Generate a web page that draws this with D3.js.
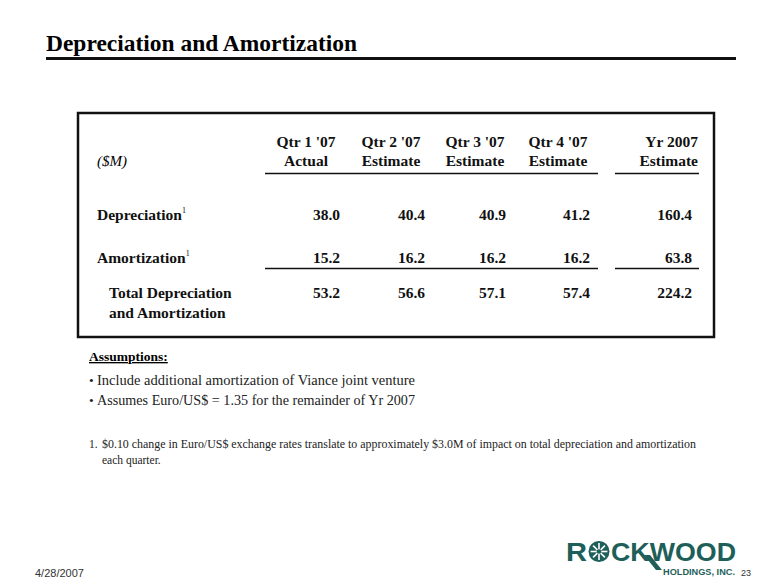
<!DOCTYPE html>
<html><head><meta charset="utf-8">
<script src="https://cdn.jsdelivr.net/npm/d3@7"></script>
<style>html,body{margin:0;padding:0;background:#fff;}svg{display:block;}</style>
</head><body>
<svg id="chart" width="780" height="587"></svg>
<script>
// ---- data ----
const title = "Depreciation and Amortization";
const columns = ["Qtr 1 '07", "Qtr 2 '07", "Qtr 3 '07", "Qtr 4 '07", "Yr 2007"];
const columnSub = ["Actual", "Estimate", "Estimate", "Estimate", "Estimate"];
const unitLabel = "($M)";
const rowLabels = ["Depreciation", "Amortization"];
const depreciation = [38.0, 40.4, 40.9, 41.2, 160.4];
const amortization = [15.2, 16.2, 16.2, 16.2, 63.8];
const totalLabel = ["Total Depreciation", "and Amortization"];
const total = [53.2, 56.6, 57.1, 57.4, 224.2];
const assumptionsTitle = "Assumptions:";
const assumptions = ["Include additional amortization of Viance joint venture",
                     "Assumes Euro/US$ = 1.35 for the remainder of Yr 2007"];
const footnote = ["$0.10 change in Euro/US$ exchange rates translate to approximately $3.0M of impact on total depreciation and amortization",
                  "each quarter."];
const dateText = "4/28/2007";
const pageNum = "23";

// ---- drawing ----
const svg = d3.select("#chart");
const serif = "'Liberation Serif', 'Times New Roman', serif";
const sans = "'Liberation Sans', Arial, sans-serif";
const teal = "#1e5f5a";

// title
svg.append("text").attr("x", 46).attr("y", 51)
  .style("font-family", serif).style("font-weight", "bold").style("font-size", "23px")
  .attr("textLength", 311).attr("lengthAdjust", "spacingAndGlyphs")
  .text(title);
svg.append("rect").attr("x", 46).attr("y", 57).attr("width", 690).attr("height", 3).attr("fill", "#111");

// table box
svg.append("rect").attr("x", 78).attr("y", 113).attr("width", 636).attr("height", 224)
  .attr("fill", "none").attr("stroke", "#111").attr("stroke-width", 2.5);

// column scales
const xRight = d3.scaleOrdinal().domain(columns).range([340, 425, 506, 590, 692]);
const xHead = d3.scaleOrdinal().domain(columns).range([306, 391, 475, 558, 698]);
const headAnchor = d3.scaleOrdinal().domain(columns).range(["middle", "middle", "middle", "middle", "end"]);
// row scale
const yRow = d3.scalePoint().domain(["dep", "amo"]).range([220, 263]);

const cell = (sel) => sel.style("font-family", serif).style("font-weight", "bold").style("font-size", "15.5px").attr("fill", "#111");

// headers
const hg = svg.append("g");
hg.selectAll("text.h1").data(columns).join("text").attr("class", "h1")
  .attr("x", d => xHead(d)).attr("y", 147).attr("text-anchor", d => headAnchor(d))
  .call(cell).text(d => d);
hg.selectAll("text.h2").data(columns).join("text").attr("class", "h2")
  .attr("x", d => xHead(d)).attr("y", 166).attr("text-anchor", d => headAnchor(d))
  .call(cell).text((d, i) => columnSub[i]);
svg.append("text").attr("x", 97).attr("y", 166)
  .style("font-family", serif).style("font-style", "italic").style("font-size", "15px").text(unitLabel);

// rules
const rule = (x1, x2, y) => svg.append("line").attr("x1", x1).attr("x2", x2).attr("y1", y).attr("y2", y)
  .attr("stroke", "#111").attr("stroke-width", 1.6);
rule(265, 598, 173.5); rule(615, 699, 173.5);
rule(265, 598, 268.5); rule(615, 699, 268.5);

// row labels
const rows = [{key: "dep", label: rowLabels[0], vals: depreciation}, {key: "amo", label: rowLabels[1], vals: amortization}];
rows.forEach(r => {
  const t = svg.append("text").attr("x", 97).attr("y", yRow(r.key)).call(cell);
  t.append("tspan").text(r.label);
  t.append("tspan").attr("dy", -7).style("font-size", "8px").style("font-weight", "normal").text("1");
  svg.append("g").selectAll("text").data(r.vals).join("text")
    .attr("x", (d, i) => xRight(columns[i])).attr("y", yRow(r.key)).attr("text-anchor", "end")
    .call(cell).text(d => d3.format(".1f")(d));
});

// total
svg.append("g").selectAll("text").data(totalLabel).join("text")
  .attr("x", 109).attr("y", (d, i) => 298 + i * 20).call(cell).text(d => d);
svg.append("g").selectAll("text").data(total).join("text")
  .attr("x", (d, i) => xRight(columns[i])).attr("y", 298).attr("text-anchor", "end")
  .call(cell).text(d => d3.format(".1f")(d));

// assumptions
svg.append("text").attr("x", 89).attr("y", 361)
  .style("font-family", serif).style("font-weight", "bold").style("font-size", "13.5px")
  .style("text-decoration", "underline").text(assumptionsTitle);
const asg = svg.append("g");
asg.selectAll("text.b").data(assumptions).join("text").attr("class", "b")
  .attr("x", 89).attr("y", (d, i) => 385 + i * 20)
  .style("font-family", serif).style("font-size", "13.5px").attr("fill", "#222")
  .text("\u2022");
asg.selectAll("text.t").data(assumptions).join("text").attr("class", "t")
  .attr("x", 97).attr("y", (d, i) => 385 + i * 20)
  .style("font-family", serif).style("font-size", "14.5px").attr("fill", "#222")
  .attr("textLength", 318).attr("lengthAdjust", "spacingAndGlyphs")
  .text(d => d);

// footnote
svg.append("text").attr("x", 89).attr("y", 448)
  .style("font-family", serif).style("font-size", "11.5px").attr("fill", "#222").text("1.");
svg.append("g").selectAll("text").data(footnote).join("text")
  .attr("x", 102).attr("y", (d, i) => 448 + i * 16)
  .style("font-family", serif).style("font-size", (d, i) => i === 0 ? "12px" : "11.5px").attr("fill", "#222")
  .attr("textLength", (d, i) => i === 0 ? 594 : null).attr("lengthAdjust", "spacingAndGlyphs")
  .text(d => d);

// date and page number
svg.append("text").attr("x", 35).attr("y", 577)
  .style("font-family", sans).style("font-size", "11px").attr("fill", "#333")
  .text(dateText);
svg.append("text").attr("x", 741).attr("y", 576)
  .style("font-family", sans).style("font-size", "9px").attr("fill", "#333")
  .text(pageNum);

// logo
const logo = svg.append("g");
const lf = (sel, size) => sel.style("font-family", sans).style("font-weight", "bold")
  .style("font-size", size).attr("fill", teal);
logo.append("text").attr("x", 566).attr("y", 561).call(lf, "26px").attr("textLength", 21).attr("lengthAdjust", "spacingAndGlyphs").text("R");
// star-burst O
const cx = 599, cy = 551.5, rr = 10.5;
logo.append("circle").attr("cx", cx).attr("cy", cy).attr("r", rr).attr("fill", teal);
d3.range(8).forEach(k => {
  const a = k * Math.PI / 4;
  logo.append("line").attr("x1", cx).attr("y1", cy)
    .attr("x2", cx + Math.cos(a) * rr * 0.8).attr("y2", cy + Math.sin(a) * rr * 0.8)
    .attr("stroke", "#fff").attr("stroke-width", 1.6);
});
logo.append("circle").attr("cx", cx).attr("cy", cy).attr("r", 2.3).attr("fill", teal);
logo.append("text").attr("x", 611).attr("y", 561).call(lf, "26px").attr("textLength", 125).attr("lengthAdjust", "spacingAndGlyphs").text("CKWOOD");
// K leg extension
logo.append("path").attr("d", "M644,555 L650,555 L662,570 L656,570 Z").attr("fill", teal);
logo.append("text").attr("x", 663).attr("y", 575).call(lf, "9px").attr("textLength", 72).attr("lengthAdjust", "spacingAndGlyphs").text("HOLDINGS, INC.");
</script>
</body></html>
